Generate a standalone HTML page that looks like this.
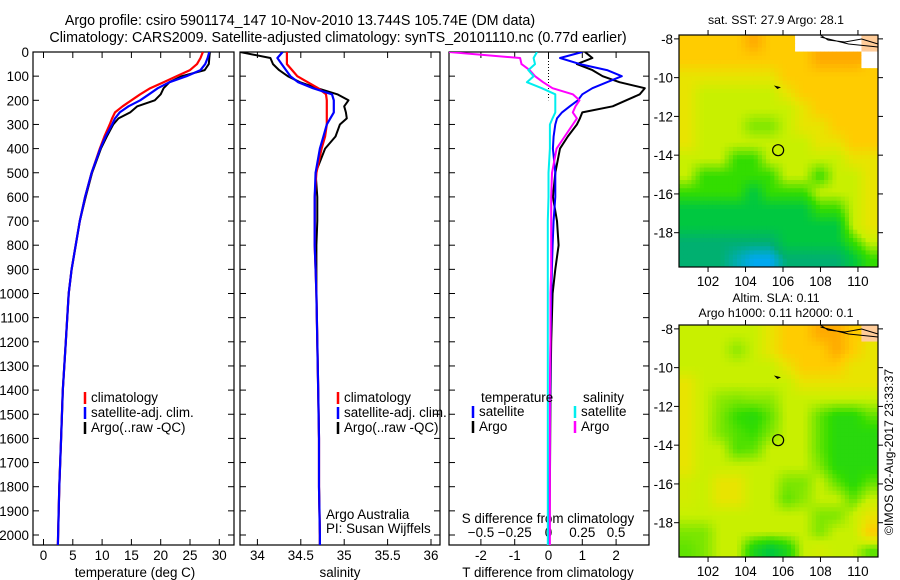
<!DOCTYPE html>
<html><head><meta charset="utf-8"><style>
body{margin:0;background:#fff}
svg{display:block;font-family:"Liberation Sans",sans-serif;font-size:13.4px}
</style></head><body>
<svg id="s" width="900" height="580" xmlns="http://www.w3.org/2000/svg">
<text x="300" y="25" text-anchor="middle" font-size="14.3">Argo profile: csiro 5901174_147 10-Nov-2010 13.744S 105.74E (DM data)</text>
<text x="338" y="42" text-anchor="middle" font-size="14.3">Climatology: CARS2009. Satellite-adjusted climatology: synTS_20101110.nc (0.77d earlier)</text>
<text x="776" y="24" text-anchor="middle" font-size="12.3">sat. SST: 27.9 Argo: 28.1</text>
<text x="776" y="302" text-anchor="middle" font-size="12.3">Altim. SLA: 0.11</text>
<text x="776" y="317" text-anchor="middle" font-size="12.3">Argo h1000: 0.11 h2000: 0.1</text>
<text transform="translate(893,452) rotate(-90)" text-anchor="middle" font-size="12.3">©IMOS 02-Aug-2017 23:33:37</text>
</svg>
<script>
// ---- profile data ----
const depths=[0,25,50,75,100,125,150,175,200,225,250,275,300,350,400,500,600,700,800,900,1000,1200,1400,1600,1800,2000,2100];
const tClim=[27.2,26.8,26.2,25,22.7,20.5,18.2,16.5,15,13.5,12.2,11.7,11.3,10.4,9.6,8.2,7.1,6.2,5.5,4.8,4.3,3.8,3.3,3.0,2.7,2.5,2.4];
const tSat=[28.3,28,27.6,26.8,24.4,21.5,19.5,18,16.5,14.5,13,12.2,11.7,10.6,9.7,8.2,7.1,6.2,5.5,4.8,4.3,3.8,3.3,3.0,2.7,2.5,2.4];
const tArgo=[28.4,28.3,28.2,27.5,23.6,21.5,20.5,20,19,16,14.8,12.8,11.9,10.8,9.8,8.3,7.2,6.2,5.5,4.8,4.3,3.8,3.3,3.0,2.7,2.5,2.4];
const sClim=[34.34,34.34,34.34,34.4,34.46,34.58,34.7,34.79,34.8,34.8,34.8,34.8,34.8,34.78,34.74,34.68,34.66,34.66,34.66,34.67,34.68,34.69,34.7,34.71,34.71,34.72,34.72];
const sSat=[34.29,34.23,34.28,34.33,34.38,34.47,34.64,34.86,34.88,34.88,34.88,34.84,34.8,34.76,34.72,34.67,34.66,34.66,34.66,34.67,34.68,34.69,34.7,34.71,34.71,34.72,34.72];
const sArgo=[33.8,34.15,34.18,34.25,34.35,34.49,34.69,34.92,35.05,35.0,35.02,35.03,34.95,34.9,34.78,34.67,34.69,34.69,34.68,34.68,34.68,34.69,34.7,34.71,34.71,34.72,34.72];
const dtSat=[1.0,0.34,0.93,1.73,2.17,1.73,1.3,1.0,0.87,0.63,0.4,0.25,0.2,0.15,0.13,0.2,0.2,0.15,0.12,0.1,0.08,0.06,0.05,0.04,0.03,0.02,0.02];
const dtArgo=[1.08,1.3,0.84,1.3,1.6,2.1,2.85,2.7,2.3,1.9,1.0,0.93,0.84,0.57,0.34,0.2,0.13,0.25,0.3,0.2,0.12,0.08,0.06,0.05,0.04,0.03,0.03];
const dsSat=[-0.085,-0.11,-0.1,-0.15,-0.11,-0.16,-0.05,0.05,0.05,0.05,0.05,0.03,0.01,0.01,0.01,0,0,-0.005,-0.005,-0.005,-0.005,-0.005,-0.005,-0.005,-0.005,-0.005,-0.005];
const dsArgo=[-0.74,-0.21,-0.2,-0.14,-0.1,-0.04,0.03,0.18,0.23,0.2,0.18,0.21,0.18,0.12,0.06,0.026,0.02,0.02,0.02,0.02,0.015,0.015,0.01,0.01,0.01,0.01,0.01];
const depthTicks=[0,100,200,300,400,500,600,700,800,900,1000,1100,1200,1300,1400,1500,1600,1700,1800,1900,2000];
const tTicks=[0,5,10,15,20,25,30];
const sTicks=[34,34.5,35,35.5,36];
const dtTicks=[-2,-1,0,1,2];
const dsTicks=[-0.5,-0.25,0,0.25,0.5];
// ---- map data (value index 0..8, -1 = missing/white, 9 = land) ----
const sstGrid=[
[6,6,6,6,7,6,6,-1,-1,-1,-1,9],
[6,6,6,6,6,6,6,6,7,7,7,-1],
[5,5,5,5,5,5,6,6,6,6,6,6],
[5,4,4,4,4,4,5,6,6,6,6,6],
[5,4,4,4,4,4,4,5,6,6,6,6],
[5,4,4,4,3.5,3.5,4,5,5,6,6,6],
[5,4,4,4,4,4,4,4,5,5,6,6],
[4,4,4,3,3,4,4,4,4,4,5,5],
[4,3,3,3,3,3,4,4,3,4,4,5],
[3,3,3,3,2,3,3,3,4,4,4,5],
[2,2,2,2,2,2,2,2,3,3,4,5],
[2,2,2,2,2,2,2,2,2,2,4,5],
[1,1,1,1,1,1,2,2,2,2,3,4],
[1,1,1,0.5,0,0,1,1,1,1,2,3]];
const slaGrid=[
[4,4,4,4,4,5,6,6,7,7,6,9],
[4,4,4,3.6,4,5,6,6,6,7,6,5],
[4,4,4,4,4,4,5,6,6,6,5,5],
[5,4,4,4,4,4,4,5,5,5,5,5],
[5,4,3.6,3.5,3.6,3.6,4,4,4,4,4,4],
[5,4,3.5,3,2.8,3.3,4,4,3.3,2.8,2.8,3.3],
[5,4,3.5,3.2,3,3.5,4,4,3.3,2.8,2.8,2.8],
[5,4,4,3.2,3.3,4,4,4,3.3,2.8,2.8,2.8],
[5,4,4,4,4,4,4,4,3.5,2.8,2.8,2.8],
[4.3,4,5,5,4,4,3.5,3.5,4,3.3,2.8,3.3],
[4.3,4,5,5,4,4,3.3,3.6,4,4,3.3,4],
[4,4,4,4,4,4,4,4,3.5,3.5,4,5],
[3.5,3.5,4,4,4,4,4,4,3.5,4,4,6],
[3.3,3.5,4,4,2.6,2,2.6,4,4.3,4,4,3.3]];
const lonTicks=[102,104,106,108,110];
const latTicks=[-8,-10,-12,-14,-16,-18];
const argoLon=105.74, argoLat=-13.744;

const NS="http://www.w3.org/2000/svg", svg=document.getElementById('s');
function el(t,a,p){const e=document.createElementNS(NS,t);for(const k in a)e.setAttribute(k,a[k]);(p||svg).appendChild(e);return e;}
function txt(x,y,s,anchor,p){const e=el('text',{x:x,y:y,'text-anchor':anchor||'middle'},p);e.textContent=s;return e;}
const Y=d=>52+d*0.2415;
const TOP=52,BOT=545;

function panel(name){
  const g=el('g',{});
  
  
  return g;
}
function frame(g,x0,x1){const r=el('rect',{x:x0,y:TOP,width:x1-x0,height:BOT-TOP,fill:'none',stroke:'#000','stroke-width':1.2},g);
  }
function depthTicksFn(g,x0,x1,labels){
  depthTicks.forEach(d=>{const y=Y(d);
    el('line',{x1:x0,x2:x0+6,y1:y,y2:y,stroke:'#000'},g);
    el('line',{x1:x1-6,x2:x1,y1:y,y2:y,stroke:'#000'},g);
    if(labels){const t=txt(x0-4,y+5,String(d),'end',g);}
  });
}
function line(g,xs,X,color,w,name,clipId){
  const pts=xs.map((v,i)=>X(v).toFixed(1)+','+Y(depths[i]).toFixed(1)).join(' ');
  const p=el('polyline',{points:pts,fill:'none',stroke:color,'stroke-width':w||2.2,'stroke-linejoin':'round'},g);
  if(clipId)p.setAttribute('clip-path','url(#'+clipId+')');
  
  
  return p;
}
const defs=el('defs',{});
[[33,234,'c1'],[240,440,'c2'],[449,649,'c3']].forEach(([a,b,id])=>{const c=el('clipPath',{id:id},defs);el('rect',{x:a,y:TOP,width:b-a,height:BOT-TOP},c);});
function legend(g,x,y,items){
  items.forEach((it,i)=>{
    const yy=y+i*15;
    const l=el('line',{x1:x,x2:x,y1:yy-10,y2:yy+2,stroke:it[1],'stroke-width':2.5},g);
    
    const t=txt(x+6,yy,it[0],'start',g);
  });
}
const LBL=560, TTL=577;
// Panel 1: temperature
{const x0=33,x1=234,X=t=>43.5+t*5.86;const g=panel('temperature-panel');
 frame(g,x0,x1);depthTicksFn(g,x0,x1,true);
 tTicks.forEach(t=>{const x=X(t);el('line',{x1:x,x2:x,y1:TOP,y2:TOP+6,stroke:'#000'},g);el('line',{x1:x,x2:x,y1:BOT-6,y2:BOT,stroke:'#000'},g);
   const l=txt(x,LBL,String(t),'middle',g);});
 const xl=txt(135,TTL,'temperature (deg C)','middle',g);
 line(g,tArgo,X,'#000',2,'argo-temperature-line','c1');
 line(g,tClim,X,'#f00',2.2,'climatology-temperature-line','c1');
 line(g,tSat,X,'#00f',2.2,'satellite-temperature-line','c1');
 legend(g,85,402,[['climatology','#f00'],['satellite-adj. clim.','#00f'],['Argo(..raw -QC)','#000']]);
}
// Panel 2: salinity
{const x0=240,x1=440,X=s=>257.4+(s-34)*86.8;const g=panel('salinity-panel');
 frame(g,x0,x1);depthTicksFn(g,x0,x1,false);
 sTicks.forEach(s=>{const x=X(s);el('line',{x1:x,x2:x,y1:TOP,y2:TOP+6,stroke:'#000'},g);el('line',{x1:x,x2:x,y1:BOT-6,y2:BOT,stroke:'#000'},g);
   const l=txt(x,LBL,String(s),'middle',g);});
 const xl=txt(340,TTL,'salinity','middle',g);
 line(g,sArgo,X,'#000',2,'argo-salinity-line','c2');
 line(g,sClim,X,'#f00',2.2,'climatology-salinity-line','c2');
 line(g,sSat,X,'#00f',2.2,'satellite-salinity-line','c2');
 legend(g,338,402,[['climatology','#f00'],['satellite-adj. clim.','#00f'],['Argo(..raw -QC)','#000']]);
 const a=txt(326,519,'Argo Australia','start',g);
 const b=txt(326,533,'PI: Susan Wijffels','start',g);
}
// Panel 3: differences
{const x0=449,x1=649,XT=t=>548.5+t*33.8,XS=s=>548.5+s*135;const g=panel('difference-panel');
 frame(g,x0,x1);depthTicksFn(g,x0,x1,false);
 dtTicks.forEach(t=>{const x=XT(t);el('line',{x1:x,x2:x,y1:TOP,y2:TOP+6,stroke:'#000'},g);el('line',{x1:x,x2:x,y1:BOT-6,y2:BOT,stroke:'#000'},g);
   const l=txt(x,LBL,String(t),'middle',g);});
 dsTicks.forEach(s=>{const l=txt(XS(s),537,String(s).replace('-','\u2212'),'middle',g);});
 const st=txt(548,523,'S difference from climatology','middle',g);
 const xl=txt(548,TTL,'T difference from climatology','middle',g);
 const z=el('line',{x1:XT(0),x2:XT(0),y1:TOP,y2:Y(200),stroke:'#000','stroke-dasharray':'1,2'},g);
 line(g,dtArgo,XT,'#000',2,'argo-t-difference-line','c3');
 line(g,dtSat,XT,'#00f',2,'satellite-t-difference-line','c3');
 line(g,dsArgo,XS,'#f0f',2,'argo-s-difference-line','c3');
 line(g,dsSat,XS,'#0ee',2,'satellite-s-difference-line','c3');
 const h1=txt(481,402,'temperature','start',g);
 const h2=txt(583,402,'salinity','start',g);
 legend(g,473,416,[['satellite','#00f'],['Argo','#000']]);
 legend(g,575,416,[['satellite','#0ee'],['Argo','#f0f']]);
}
// Maps
const palette=['#00a8f0','#00b070','#00c840','#33dd00','#c8f000','#e8e400','#ffcc00','#ffaa00','#ff8c00'];
function hex(c){return [1,3,5].map(i=>parseInt(c.substr(i,2),16));}
function color(v){if(v<0)return '#ffffff';if(v>=9)return '#ffcc99';const i=Math.min(7,Math.floor(v)),f=v-i;const a=hex(palette[i]),b=hex(palette[i+1]);
 return 'rgb('+a.map((c,k)=>Math.round(c+(b[k]-c)*f)).join(',')+')';}
function sample(grid,fr,fc){
  const rows=grid.length,cols=grid[0].length;
  const r=Math.max(0,Math.min(rows-1,fr-0.5)),c=Math.max(0,Math.min(cols-1,fc-0.5));
  const r0=Math.floor(r),c0=Math.floor(c),r1=Math.min(rows-1,r0+1),c1=Math.min(cols-1,c0+1),dr=r-r0,dc=c-c0;
  const near=grid[Math.min(rows-1,Math.floor(fr))][Math.min(cols-1,Math.floor(fc))];
  if(near<0||near>=9)return near;
  const v=[grid[r0][c0],grid[r0][c1],grid[r1][c0],grid[r1][c1]];
  const w=[(1-dr)*(1-dc),(1-dr)*dc,dr*(1-dc),dr*dc];
  let s=0,ws=0;v.forEach((x,i)=>{if(x>=0&&x<9){s+=x*w[i];ws+=w[i];}});
  return ws?s/ws:near;
}
function map(name,grid,top,bottom){
  const x0=679,x1=878,lon0=100.45,lon1=111.07,lat0=-7.8,lat1=-19.77;
  const LX=l=>x0+(l-lon0)/(lon1-lon0)*(x1-x0), LY=l=>top+(l-lat0)/(lat1-lat0)*(bottom-top);
  const g=panel(name);
  const rows=grid.length,cols=grid[0].length,sub=4,cw=(x1-x0)/(cols*sub),ch=(bottom-top)/(rows*sub);
  for(let r=0;r<rows*sub;r++)for(let c=0;c<cols*sub;c++){
    const v=sample(grid,(r+0.5)/sub,(c+0.5)/sub);
    const rc=el('rect',{x:(x0+c*cw).toFixed(2),y:(top+r*ch).toFixed(2),width:(cw+0.5).toFixed(2),height:(ch+0.5).toFixed(2),fill:color(v)},g);
    
    
  }
  const cs=el('path',{d:'M'+LX(108)+','+top+' L'+LX(108.4)+','+(top+5)+' L'+LX(109.3)+','+(top+7)+' L'+LX(110.2)+','+(top+4)+' L'+LX(111.07)+','+(top+9)+' M'+LX(108)+','+(top+2)+' L'+LX(109.5)+','+(top+9)+' L'+LX(111.07)+','+(top+12),fill:'none',stroke:'#000','stroke-width':1},g);
  
  el('rect',{x:x0,y:top,width:x1-x0,height:bottom-top,fill:'none',stroke:'#000','stroke-width':1.2},g);
  lonTicks.forEach(l=>{const x=LX(l);el('line',{x1:x,x2:x,y1:top-5,y2:top,stroke:'#000'},g);el('line',{x1:x,x2:x,y1:bottom,y2:bottom+5,stroke:'#000'},g);
    const t=txt(x,bottom+19,String(l),'middle',g);});
  latTicks.forEach(l=>{const y=LY(l);el('line',{x1:x0-5,x2:x0,y1:y,y2:y,stroke:'#000'},g);el('line',{x1:x1,x2:x1+5,y1:y,y2:y,stroke:'#000'},g);
    const t=txt(x0-6,y+5,String(l),'end',g);});
  const c=el('circle',{cx:LX(argoLon),cy:LY(argoLat),r:5.5,fill:'none',stroke:'#000','stroke-width':1.2},g);
  
  const a=el('path',{d:'M'+(LX(105.6))+','+LY(-10.45)+' l4,1 l-2,1 z',fill:'#000',stroke:'#000'},g);
  
}
map('sst-map',sstGrid,35,267);
map('sla-map',slaGrid,325,557);
</script>
</body></html>
